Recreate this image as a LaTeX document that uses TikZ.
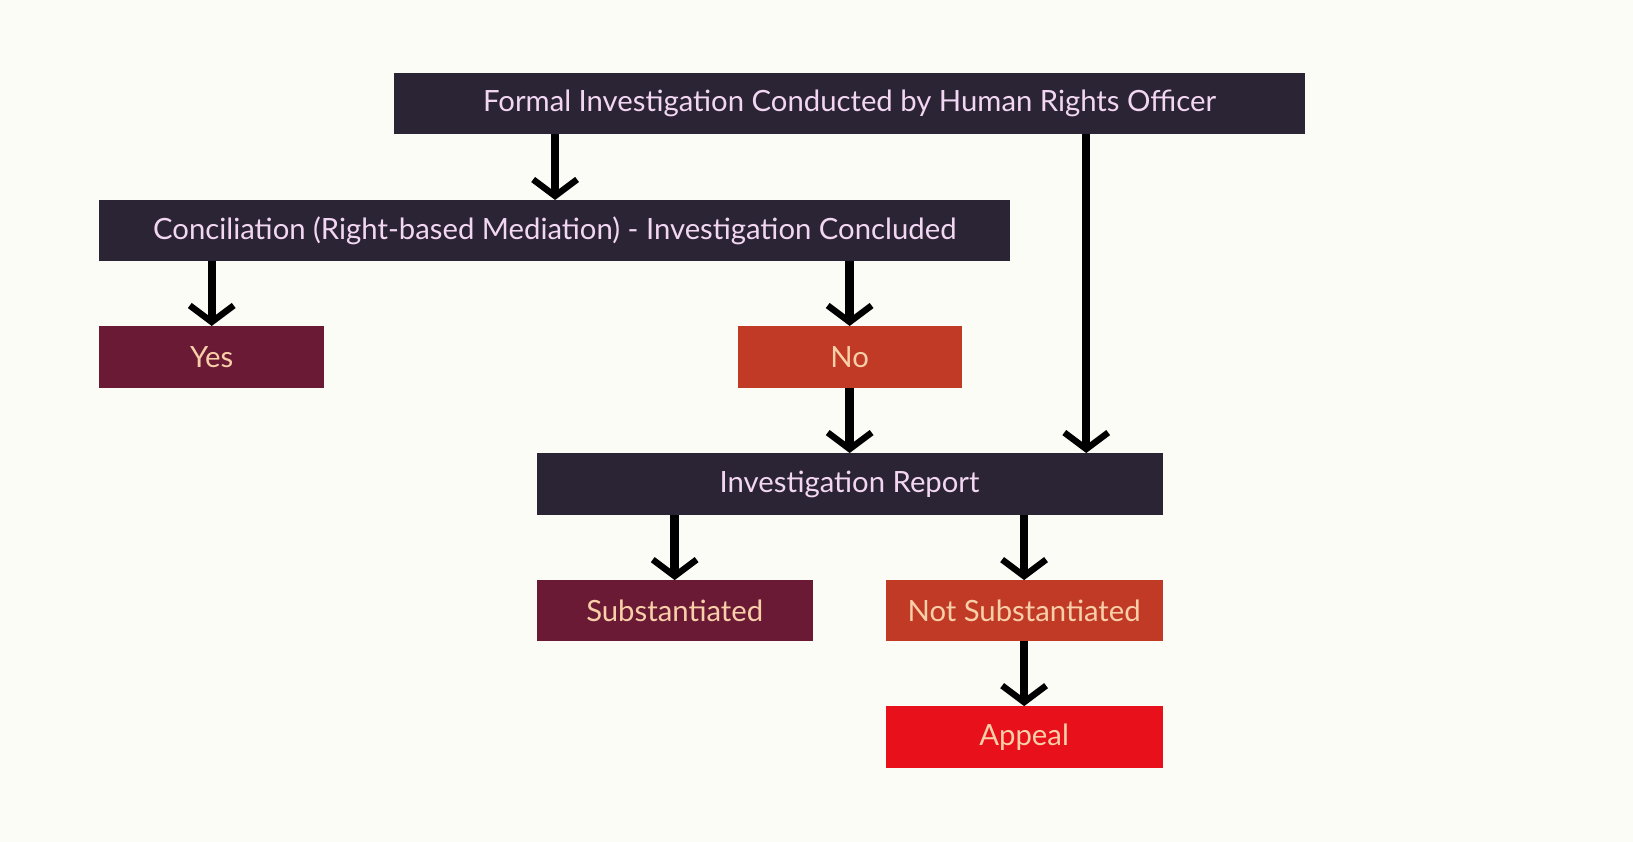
\documentclass[tikz,border=0pt]{standalone}
\usepackage{fontspec}
\setmainfont{Lato}
\usetikzlibrary{arrows.meta}
\definecolor{bg}{HTML}{FCFCF7}
\definecolor{dark}{HTML}{2A2435}
\definecolor{maroon}{HTML}{6B1A35}
\definecolor{rust}{HTML}{C03A25}
\definecolor{brightred}{HTML}{E8101A}
\definecolor{pinktext}{HTML}{F2D6F2}
\definecolor{peach}{HTML}{F8CFA8}
\begin{document}
\begin{tikzpicture}[x=0.02cm,y=-0.02cm,
  box/.style={anchor=north west,inner sep=0pt,font=\fontsize{16}{18}\selectfont},
  darkbox/.style={box,fill=dark,text=pinktext},
  arr/.style={line width=4.6pt,-{Straight Barb[length=9pt,width=24pt,line width=3.5pt]}}]
\fill[bg] (0,0) rectangle (1568,808);
\useasboundingbox (0,0) rectangle (1568,808);
\node[darkbox,minimum width=17.5cm,minimum height=1.16cm] (top) at (378,70) {Formal Investigation Conducted by Human Rights Officer};
\node[darkbox,minimum width=17.5cm,minimum height=1.16cm] (conc) at (95,192) {Conciliation (Right-based Mediation) - Investigation Concluded};
\node[box,fill=maroon,text=peach,minimum width=4.32cm,minimum height=1.18cm] (yes) at (95,313) {Yes};
\node[box,fill=rust,text=peach,minimum width=4.3cm,minimum height=1.18cm] (no) at (708,313) {No};
\node[darkbox,minimum width=12.02cm,minimum height=1.18cm] (rep) at (515,435) {Investigation Report};
\node[box,fill=maroon,text=peach,minimum width=5.3cm,minimum height=1.16cm] (sub) at (515,557) {Substantiated};
\node[box,fill=rust,text=peach,minimum width=5.32cm,minimum height=1.16cm] (nsub) at (850,557) {Not Substantiated};
\node[box,fill=brightred,text=peach,minimum width=5.32cm,minimum height=1.18cm] (app) at (850,678) {Appeal};
\draw[arr] (top.south -| 533,0) -- (conc.north -| 533,0);
\draw[arr] (top.south -| 1043,0) -- (rep.north -| 1043,0);
\draw[arr] (conc.south -| yes.north) -- (yes.north);
\draw[arr] (conc.south -| no.north) -- (no.north);
\draw[arr] (no.south) -- (rep.north -| no.south);
\draw[arr] (rep.south -| sub.north) -- (sub.north);
\draw[arr] (rep.south -| nsub.north) -- (nsub.north);
\draw[arr] (nsub.south) -- (app.north);
\end{tikzpicture}
\end{document}
